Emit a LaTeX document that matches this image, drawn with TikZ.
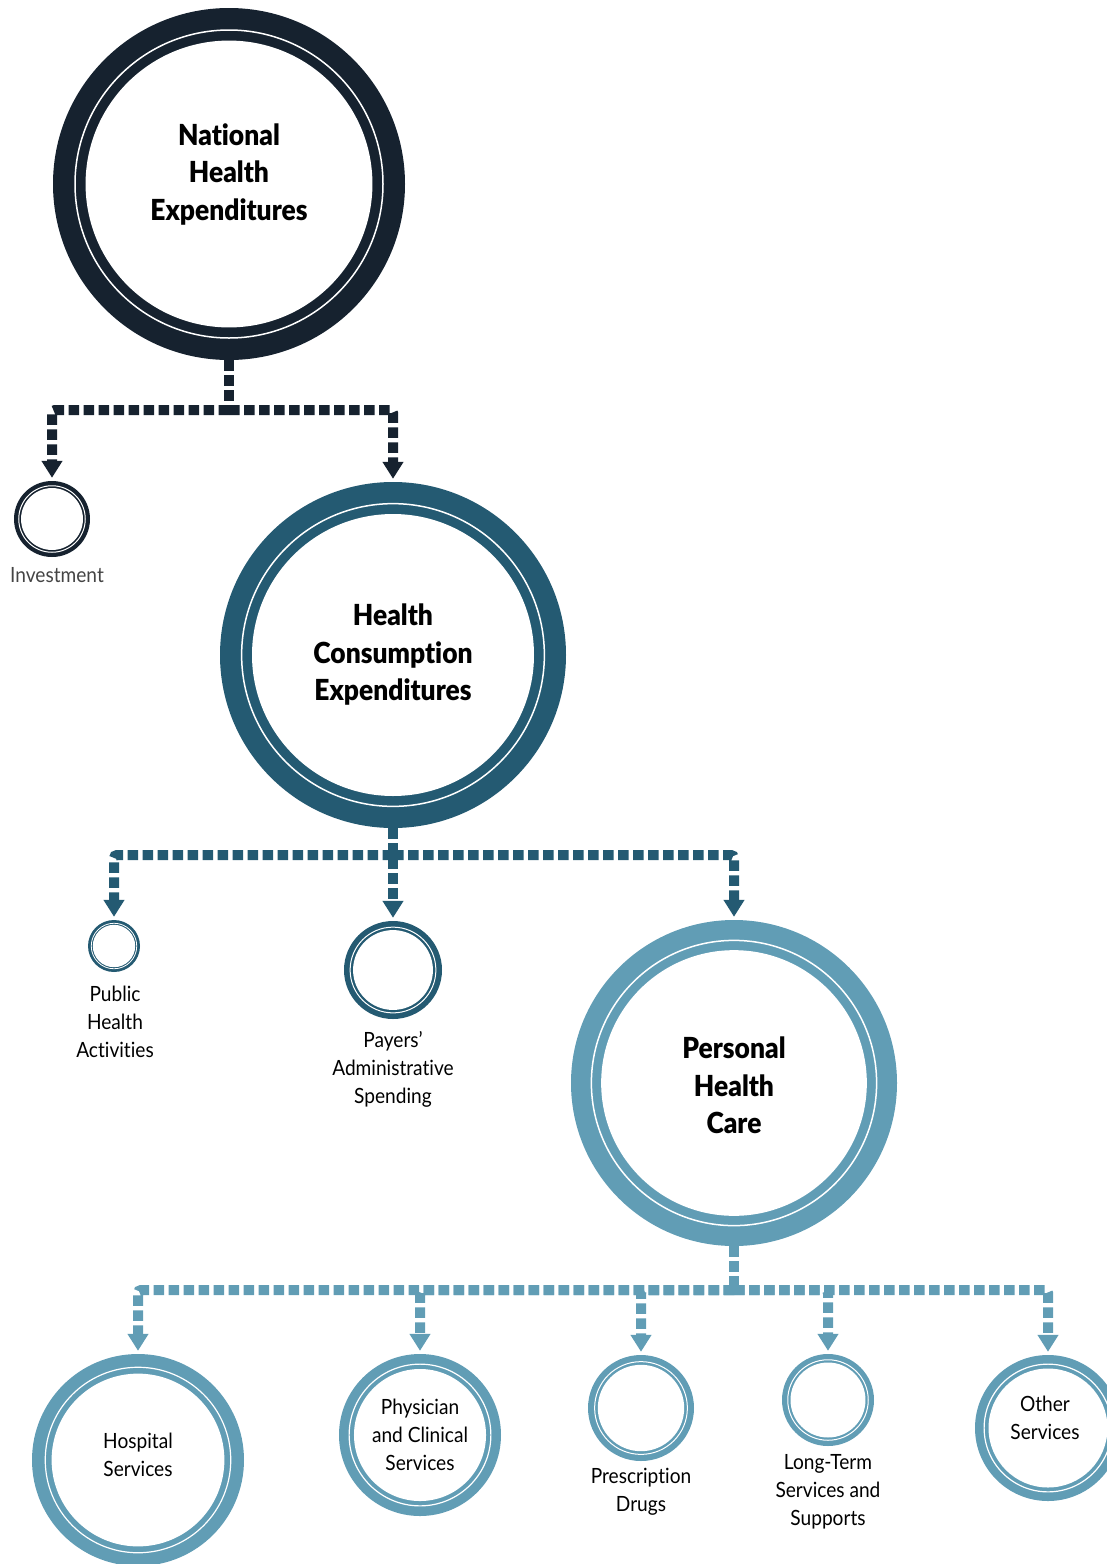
\documentclass[tikz,border=0pt]{standalone}
\usepackage{fontspec}
\setmainfont{Lato}[Ligatures=NoCommon, FakeStretch=0.91]
\newfontfamily\heavyfont{Lato Black}[Ligatures=NoCommon, FakeStretch=0.91]
\usetikzlibrary{arrows.meta}
\definecolor{navy}{RGB}{22,34,47}
\definecolor{teal}{RGB}{36,90,114}
\definecolor{sky}{RGB}{97,157,181}
\definecolor{labelgray}{RGB}{68,68,68}
\tikzset{
  conn/.style={line width=10pt, dash pattern=on 10.5pt off 4.5pt, rounded corners=3pt},
  tip/.style={-{Triangle[width=20pt,length=17pt]}},
  bigtext/.style={align=center, font=\heavyfont\fontsize{29}{37.5}\selectfont, text=black},
  smalltext/.style={align=center, font=\fontsize{21}{28}\selectfont, text=black},
}
% name, x, y, R, colour, white-line width
\newcommand\ringnode[6]{%
  \node[circle, fill=#5, minimum size={2*#4pt}, inner sep=0pt] (#1) at (#2,#3) {};
  \fill[white] (#1.center) circle ({0.815*#4pt});
  \draw[white, line width=#6] (#1.center) circle ({0.875*#4pt});
}
\begin{document}
\begin{tikzpicture}[x=1pt,y=-1pt]
\useasboundingbox (0,0) rectangle (1107,1564);
% level 1
\ringnode{nhe}{229}{184}{176}{navy}{1.5pt}
\node[bigtext] (nhet) at (229,174) {National\\Health\\Expenditures};
\ringnode{inv}{52}{519}{38}{navy}{1pt}
\node[smalltext, text=labelgray] (invl) at (57,575) {Investment};
% level 2
\ringnode{hce}{393}{655}{173}{teal}{1.5pt}
\node[bigtext] (hcet) at (hce.center) {Health\\Consumption\\Expenditures};
\ringnode{pha}{114}{946}{26}{teal}{0.8pt}
\node[smalltext] (phal) at (115,1022) {Public\\Health\\Activities};
\ringnode{pay}{393}{970}{49}{teal}{1pt}
\node[smalltext] (payl) at (393,1069) {Payers’\\Administrative\\Spending};
\ringnode{phc}{734}{1083}{163}{sky}{1.5pt}
\node[bigtext] (phct) at (734,1085.5) {Personal\\Health\\Care};
% level 3
\ringnode{hos}{138}{1460}{106}{sky}{1.2pt}
\node[smalltext] (host) at (138,1455) {Hospital\\Services};
\ringnode{phy}{420}{1435}{81}{sky}{1.2pt}
\node[smalltext] (phyt) at (phy.center) {Physician\\and Clinical\\Services};
\ringnode{rx}{641}{1408}{53}{sky}{1pt}
\node[smalltext] (rxl) at (641,1492) {Prescription\\Drugs};
\ringnode{lts}{828}{1400}{46}{sky}{1pt}
\node[smalltext] (ltsl) at (828,1492) {Long-Term\\Services and\\Supports};
\ringnode{oth}{1048}{1428}{73}{sky}{1.2pt}
\node[smalltext] (otht) at (1045,1418) {Other\\Services};
% junctions
\coordinate (j1) at (229,410);
\coordinate (j2) at (393,855);
\coordinate (j3) at (734,1290);
% connectors level 1
\draw[conn, navy] (nhe.south) -- (j1);
\draw[conn, navy, tip] (j1) -| ([yshift=3pt]inv.north);
\draw[conn, navy, tip] (j1) -| ([yshift=3pt]hce.north);
% connectors level 2
\draw[conn, teal, tip] (hce.south) -- ([yshift=3pt]pay.north);
\draw[conn, teal, tip] (j2) -| ([yshift=3pt]pha.north);
\draw[conn, teal, tip] (j2) -| ([yshift=3pt]phc.north);
% connectors level 3
\draw[conn, sky] (phc.south) -- (j3);
\draw[conn, sky, tip] (j3) -| ([yshift=3pt]hos.north);
\draw[conn, sky, tip] (j3) -| ([yshift=3pt]phy.north);
\draw[conn, sky, tip] (j3) -| ([yshift=3pt]rx.north);
\draw[conn, sky, tip] (j3) -| ([yshift=3pt]lts.north);
\draw[conn, sky, tip] (j3) -| ([yshift=3pt]oth.north);
\end{tikzpicture}
\end{document}
